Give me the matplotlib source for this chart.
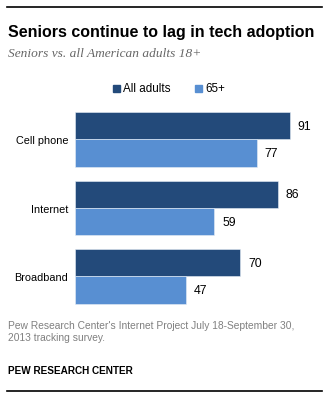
import matplotlib
matplotlib.use("Agg")
import matplotlib.pyplot as plt
from matplotlib.lines import Line2D
from matplotlib.patches import Rectangle

categories = ["Cell phone", "Internet", "Broadband"]
all_adults = [91, 86, 70]
seniors = [77, 59, 47]
series_names = ["All adults", "65+"]

DARK = "#234a7a"
LIGHT = "#588fd2"
W, H = 333, 402

plt.rcParams["font.family"] = ["Liberation Sans", "DejaVu Sans"]

fig = plt.figure(figsize=(W / 100, H / 100), dpi=100)
fig.patch.set_facecolor("white")


def fx(px):
    return px / W


def fy(py):
    return 1 - py / H


# rules at top and bottom
fig.add_artist(Line2D([fx(7), fx(322)], [fy(8), fy(8)], color="black", lw=1.2))
fig.add_artist(Line2D([fx(7), fx(322)], [fy(392), fy(392)], color="black", lw=1.2))

fig.text(fx(8), fy(37), "Seniors continue to lag in tech adoption",
         fontsize=11.5, fontweight="bold", color="black", va="baseline")
fig.text(fx(8), fy(57), "Seniors vs. all American adults 18+",
         fontsize=9.6, style="italic", family="Liberation Serif",
         color="#666666", va="baseline")

# legend
for (x0, name, col) in [(113, series_names[0], DARK), (195, series_names[1], LIGHT)]:
    fig.add_artist(Rectangle((fx(x0), fy(93)), fx(7), 7 / H, color=col,
                             transform=fig.transFigure))
    fig.text(fx(x0 + 10), fy(89.5), name, fontsize=8.4, va="center", color="black")

# bar area
px_per_unit = 68.5
ax_top, ax_bot = 110, 309
ax = fig.add_axes([fx(75), fy(ax_bot), fx(320 - 75), (ax_bot - ax_top) / H])
scale = 215 / 91  # pixels per percentage point
ax.set_xlim(0, (320 - 75) / scale)
top = -0.4 - 3 / px_per_unit
ax.set_ylim(top + (ax_bot - ax_top) / px_per_unit, top)

h = 0.4
ys = list(range(len(categories)))
ax.barh([y - h / 2 for y in ys], all_adults, height=h, color=DARK,
        edgecolor="#e8eef6", linewidth=0.4)
ax.barh([y + h / 2 for y in ys], seniors, height=h, color=LIGHT,
        edgecolor="#e8eef6", linewidth=0.4)

for y, v in zip(ys, all_adults):
    ax.text(v + 3.3, y - h / 2, str(v), va="center", ha="left", fontsize=8.8)
for y, v in zip(ys, seniors):
    ax.text(v + 3.3, y + h / 2, str(v), va="center", ha="left", fontsize=8.8)

ax.set_yticks(ys)
ax.set_yticklabels(categories, fontsize=7.8)
ax.tick_params(axis="y", length=0, pad=5)
ax.set_xticks([])
for s in ax.spines.values():
    s.set_visible(False)

fig.text(fx(8), fy(341), "Pew Research Center's Internet Project July 18-September 30,\n"
         "2013 tracking survey.", fontsize=7.4, color="#808080",
         va="baseline", linespacing=1.25)
fig.text(fx(8), fy(374), "PEW RESEARCH CENTER", fontsize=7.2,
         fontweight="bold", color="black", va="baseline")

fig.savefig("out.png", dpi=100)
